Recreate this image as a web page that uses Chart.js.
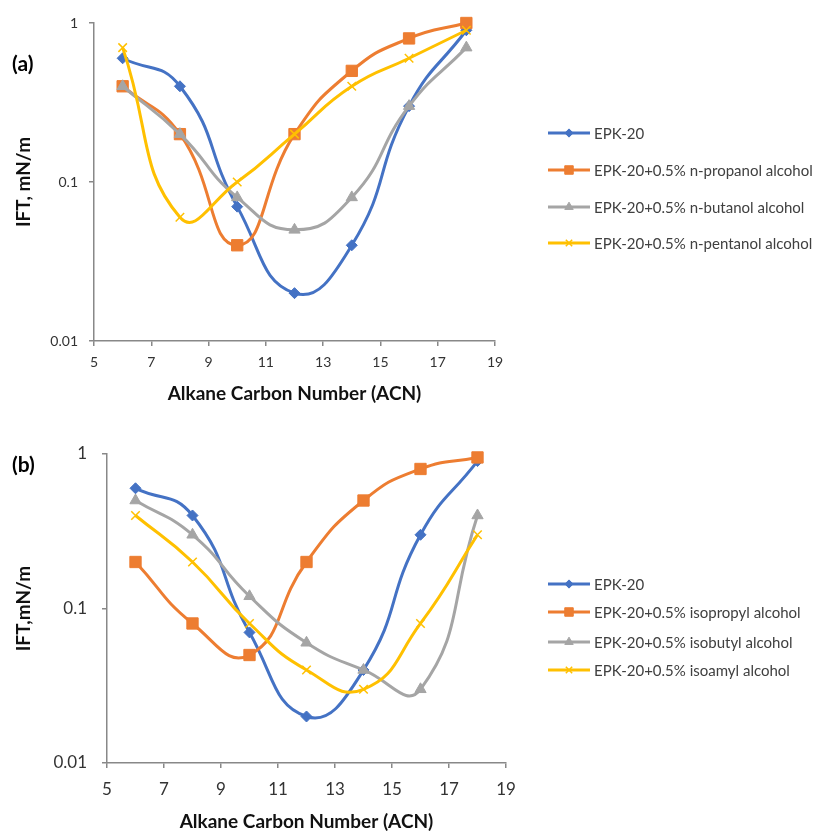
<!DOCTYPE html>
<html>
<head>
<meta charset="utf-8">
<script src="https://cdn.jsdelivr.net/npm/chart.js@4.4.0/dist/chart.umd.min.js"></script>
<style>
  html, body { margin: 0; padding: 0; background: #fff; }
  canvas { display: block; }
</style>
</head>
<body>
<canvas id="chartA" width="817" height="415"></canvas>
<canvas id="chartB" width="817" height="418"></canvas>
<script>
const acn = [6, 8, 10, 12, 14, 16, 18];
const yTicks = [0.01, 0.1, 1];

// panel (a) - normal alcohols
const namesA = ["EPK-20", "EPK-20+0.5% n-propanol alcohol", "EPK-20+0.5% n-butanol alcohol", "EPK-20+0.5% n-pentanol alcohol"];
const epkA = [0.6, 0.4, 0.07, 0.02, 0.04, 0.3, 0.9];
const propanolA = [0.4, 0.2, 0.04, 0.2, 0.5, 0.8, 1.0];
const butanolA = [0.4, 0.2, 0.08, 0.05, 0.08, 0.3, 0.7];
const pentanolA = [0.7, 0.06, 0.1, 0.2, 0.4, 0.6, 0.9];

// panel (b) - iso alcohols
const namesB = ["EPK-20", "EPK-20+0.5% isopropyl alcohol", "EPK-20+0.5% isobutyl alcohol", "EPK-20+0.5% isoamyl alcohol"];
const epkB = [0.6, 0.4, 0.07, 0.02, 0.04, 0.3, 0.9];
const isopropylB = [0.2, 0.08, 0.05, 0.2, 0.5, 0.8, 0.95];
const isobutylB = [0.5, 0.3, 0.12, 0.06, 0.04, 0.03, 0.4];
const isoamylB = [0.4, 0.2, 0.08, 0.04, 0.03, 0.08, 0.3];

const styles = [
  { color: "#4472C4", point: "rectRot", radius: 5.5, bw: 1 },
  { color: "#ED7D31", point: "rect", radius: 8, bw: 1 },
  { color: "#A5A5A5", point: "triangle", radius: 6.5, bw: 1 },
  { color: "#FFC000", point: "crossRot", radius: 6, bw: 1.5 }
];

const FONT = "Lato, 'Open Sans', sans-serif";

// draws the "(a)" tag and the line+marker legend on the right
const sideLegend = {
  id: "sideLegend",
  afterDraw(chart, args, opts) {
    const ctx = chart.ctx;
    ctx.save();
    ctx.fillStyle = "#000";
    ctx.font = "bold 21px " + FONT;
    ctx.textBaseline = "middle";
    ctx.textAlign = "left";
    ctx.fillText(opts.tag, 12, opts.tagY);
    ctx.font = opts.fontSize + "px " + FONT;
    chart.data.datasets.forEach((ds, i) => {
      const y = opts.ys[i];
      const st = styles[i];
      ctx.strokeStyle = st.color;
      ctx.fillStyle = st.color;
      ctx.lineWidth = 3;
      ctx.beginPath();
      ctx.moveTo(opts.x, y);
      ctx.lineTo(opts.x + 42, y);
      ctx.stroke();
      ctx.lineWidth = st.bw;
      Chart.helpers.drawPoint(ctx, { pointStyle: st.point, radius: st.radius * 0.75, rotation: 0, borderWidth: st.bw }, opts.x + 21, y);
      ctx.fillStyle = "#404040";
      ctx.fillText(ds.label, opts.x + 46, y + 1);
    });
    ctx.restore();
  }
};

function buildChart(id, p) {
  const datasets = p.series.map((vals, i) => ({
    label: p.names[i],
    data: vals.map((v, j) => ({ x: acn[j], y: v })),
    borderColor: styles[i].color,
    backgroundColor: styles[i].color,
    pointStyle: styles[i].point,
    pointRadius: styles[i].radius,
    pointBorderWidth: styles[i].bw,
    borderWidth: 3,
    tension: 0.5,
    clip: false,
    order: 4 - i
  }));
  const canvas = document.getElementById(id);
  return new Chart(canvas, {
    type: "line",
    data: { datasets },
    options: {
      responsive: false,
      animation: false,
      layout: { padding: { top: p.top, right: 817 - p.right, left: 0, bottom: 0 } },
      plugins: {
        legend: { display: false },
        tooltip: { enabled: false },
        sideLegend: { tag: p.tag, tagY: p.tagY, x: 548, ys: p.legendYs, fontSize: p.legendFont }
      },
      scales: {
        x: {
          type: "linear", min: 5, max: 19,
          ticks: { stepSize: 2, color: "#333", font: { family: FONT, size: p.tickFont }, padding: p.xTickPad },
          grid: { drawOnChartArea: false, tickLength: 5, color: "#888", lineWidth: 1.5 },
          border: { color: "#888", width: 1.5 },
          title: { display: true, text: "Alkane Carbon Number (ACN)", color: "#111", font: { family: FONT, size: 19, weight: "bold" }, padding: { top: 0, bottom: p.xTitlePad } },
          afterFit(s) { s.height = p.xH; }
        },
        y: {
          type: "logarithmic", min: 0.01, max: 1,
          afterBuildTicks(s) { s.ticks = yTicks.map(v => ({ value: v })); },
          ticks: { color: "#333", font: { family: FONT, size: p.tickFont }, padding: p.yTickPad, callback: v => String(v) },
          grid: { drawOnChartArea: false, tickLength: 5, color: "#888", lineWidth: 1.5 },
          border: { color: "#888", width: 1.5 },
          title: { display: true, text: p.yTitle, color: "#111", font: { family: FONT, size: 19, weight: "bold" }, padding: { top: 12, bottom: 0 } },
          afterFit(s) { s.width = p.yW; }
        }
      }
    },
    plugins: [sideLegend]
  });
}

buildChart("chartA", {
  series: [epkA, propanolA, butanolA, pentanolA], names: namesA,
  tag: "(a)", tagY: 64, legendYs: [133, 170, 207, 243], legendFont: 15,
  top: 23, right: 495, yW: 94, xH: 74, tickFont: 14, xTickPad: 8, yTickPad: 11, xTitlePad: 10,
  yTitle: "IFT, mN/m"
});

buildChart("chartB", {
  series: [epkB, isopropylB, isobutylB, isoamylB], names: namesB,
  tag: "(b)", tagY: 50, legendYs: [169, 197, 227, 255], legendFont: 15,
  top: 39, right: 506, yW: 107, xH: 70, tickFont: 17, xTickPad: 11, yTickPad: 15, xTitlePad: 0,
  yTitle: "IFT,mN/m"
});
</script>
</body>
</html>
